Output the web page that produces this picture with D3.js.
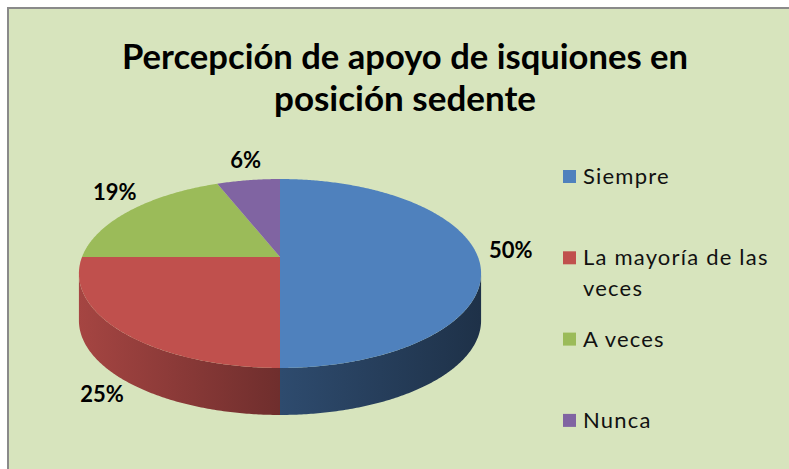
<!DOCTYPE html>
<html>
<head>
<meta charset="utf-8">
<script src="https://cdn.jsdelivr.net/npm/d3@7"></script>
<style>
  html, body { margin: 0; padding: 0; background: #ffffff; }
  svg { display: block; }
</style>
</head>
<body>
<svg id="chart" width="789" height="469"></svg>
<script>
// Survey answers and their shares (percent)
const categories = ["Siempre", "La mayoría de las veces", "A veces", "Nunca"];
const values = [50, 25, 19, 6];
const colors = ["#4F81BD", "#C0504D", "#9BBB59", "#8064A2"];
const titleLines = ["Percepción de apoyo de isquiones en", "posición sedente"];

const W = 789, H = 469;
const svg = d3.select("#chart");
const defs = svg.append("defs");

// Chart area with its frame
svg.append("rect").attr("x", 9).attr("y", 9).attr("width", W).attr("height", H)
  .attr("fill", "#D7E4BD");
svg.append("path").attr("d", `M8,${H + 5}V8H${W + 5}`)
  .attr("fill", "none").attr("stroke", "#8a8a8a").attr("stroke-width", 2);

// Title
const titleFont = "Lato, 'Open Sans', sans-serif";
const titleWidths = [566, 262];
const titleBase = [69, 111];
titleLines.forEach((t, i) => {
  svg.append("text")
    .attr("x", 405).attr("y", titleBase[i])
    .attr("text-anchor", "middle")
    .attr("font-family", titleFont).attr("font-weight", 700).attr("font-size", 35)
    .attr("textLength", titleWidths[i]).attr("lengthAdjust", "spacingAndGlyphs")
    .attr("fill", "#000").text(t);
});

// 3D pie: the disc is seen in perspective, the rim has a fixed depth
const pcx = 280, pcy = 257, Sx = 198, Sy = 91.6, persp = 0.1746, depth = 47;
function project(theta, r, dy) {
  const u = r * Math.sin(theta), v = -r * Math.cos(theta);
  const w = 1 - persp * v;
  return [pcx + Sx * u / w, pcy + Sy * v / w + (dy || 0)];
}
function arcPoints(a0, a1, r, dy) {
  const n = Math.max(2, Math.ceil((a1 - a0) / 0.01));
  return d3.range(n + 1).map(i => project(a0 + (a1 - a0) * i / n, r, dy));
}
const line = d3.line();

const pie = d3.pie().sort(null).startAngle(0).endAngle(2 * Math.PI);
const arcs = pie(values);

// Rim is visible between the two silhouette angles (through the front)
const visA = Math.acos(-persp), visB = 2 * Math.PI - Math.acos(-persp);
const xLeft = project(visB, 1)[0], xRight = project(visA, 1)[0];

const gSide = svg.append("g");
const gTop = svg.append("g");

arcs.forEach((a, i) => {
  const base = d3.color(colors[i]);
  const gid = "side" + i;
  const grad = defs.append("linearGradient").attr("id", gid)
    .attr("gradientUnits", "userSpaceOnUse")
    .attr("x1", xLeft).attr("x2", xRight).attr("y1", 0).attr("y2", 0);
  [[0, 0.86], [0.5, 0.58], [1, 0.38]].forEach(([o, f]) => {
    grad.append("stop").attr("offset", o)
      .attr("stop-color", d3.rgb(base.r * f, base.g * f, base.b * f).formatHex());
  });

  const s = Math.max(a.startAngle, visA), e = Math.min(a.endAngle, visB);
  if (e > s) {
    const topArc = arcPoints(s, e, 1, 0);
    const botArc = arcPoints(s, e, 1, depth).reverse();
    gSide.append("path").attr("d", line(topArc.concat(botArc)) + "Z")
      .attr("fill", `url(#${gid})`);
  }

  const face = [project(0, 0)].concat(arcPoints(a.startAngle, a.endAngle, 1, 0));
  gTop.append("path").attr("d", line(face) + "Z").attr("fill", colors[i]);
});

// Percentage labels outside the rim, pushed along the outline's normal
const ecx = (xLeft + xRight) / 2;
const ecy = (project(0, 1)[1] + project(Math.PI, 1)[1]) / 2;
const ea = (xRight - xLeft) / 2, eb = (project(Math.PI, 1)[1] - project(0, 1)[1]) / 2;
const halfW = 23, halfH = 7.5, gap = 12;
arcs.forEach((a, i) => {
  const mid = (a.startAngle + a.endAngle) / 2;
  const p = project(mid, 1);
  let nx = (p[0] - ecx) / (ea * ea), ny = (p[1] - ecy) / (eb * eb);
  const len = Math.hypot(nx, ny); nx /= len; ny /= len;
  const front = Math.cos(mid) < -persp;
  const y0 = front ? p[1] + depth : p[1];
  const lx = p[0] + nx * (gap + halfW), ly = y0 + ny * (gap + halfH);
  svg.append("text")
    .attr("x", lx).attr("y", ly + halfH)
    .attr("text-anchor", "middle")
    .attr("font-family", titleFont).attr("font-weight", 700).attr("font-size", 22)
    .attr("fill", "#000")
    .text(a.data + "%");
});

// Legend
const legendX = 563, textX = 583, firstBase = 184, pitch = 81.3, lineH = 31, maxW = 200;
const gLeg = svg.append("g").attr("font-family", titleFont).attr("font-size", 22)
  .attr("letter-spacing", 1.2).attr("fill", "#111");
categories.forEach((c, i) => {
  const yb = firstBase + i * pitch;
  gLeg.append("rect").attr("x", legendX).attr("y", yb - 14).attr("width", 13).attr("height", 13)
    .attr("fill", colors[i]);
  const txt = gLeg.append("text").attr("x", textX).attr("y", yb);
  // wrap words to the legend width
  const words = c.split(" ");
  let lineWords = [], lineNo = 0;
  let tspan = txt.append("tspan").attr("x", textX).attr("y", yb);
  words.forEach(w => {
    lineWords.push(w);
    tspan.text(lineWords.join(" "));
    if (tspan.node().getComputedTextLength() > maxW && lineWords.length > 1) {
      lineWords.pop();
      tspan.text(lineWords.join(" "));
      lineWords = [w];
      lineNo++;
      tspan = txt.append("tspan").attr("x", textX).attr("y", yb + lineNo * lineH).text(w);
    }
  });
});
</script>
</body>
</html>
